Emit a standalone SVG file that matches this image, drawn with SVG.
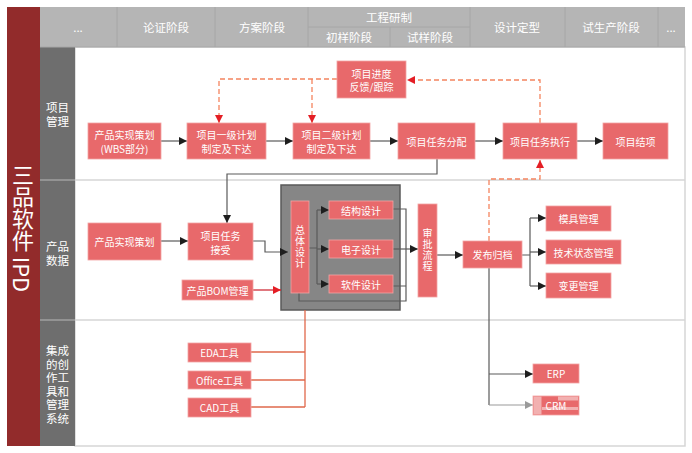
<svg xmlns="http://www.w3.org/2000/svg" width="692" height="453" viewBox="0 0 692 453">
<defs>
<marker id="ab" viewBox="0 0 10 10" refX="10" refY="5" markerWidth="8" markerHeight="8" markerUnits="userSpaceOnUse" orient="auto"><path d="M0,0 L10,5 L0,10 z" fill="#1e1e1e"/></marker>
<marker id="ar" viewBox="0 0 10 10" refX="10" refY="5" markerWidth="8" markerHeight="8" markerUnits="userSpaceOnUse" orient="auto"><path d="M0,0 L10,5 L0,10 z" fill="#E41E25"/></marker>
<marker id="ag" viewBox="0 0 10 10" refX="10" refY="5" markerWidth="8" markerHeight="8" markerUnits="userSpaceOnUse" orient="auto"><path d="M0,0 L10,5 L0,10 z" fill="#9a9a9a"/></marker>
</defs>
<style>
text{font-family:"Noto Sans CJK SC","Noto Sans",sans-serif;fill:#fff;text-anchor:middle;dominant-baseline:central}
.n{fill:#E8696B;stroke:#F2A4A4;stroke-width:0.8}
.t{font-size:10px}
.v{font-size:10px;writing-mode:vertical-rl;letter-spacing:1px}
.h{font-size:11.5px}
.l{font-size:11.5px}
.hl{stroke:#a6a6a6;stroke-width:1;fill:none}
.c{fill:none;stroke:#5a5a5a;stroke-width:1.2}
.ca{fill:none;stroke:#5a5a5a;stroke-width:1.2;marker-end:url(#ab)}
.dr{fill:none;stroke:#F4845F;stroke-width:1.3;stroke-dasharray:5,3;marker-end:url(#ar)}
.o{fill:none;stroke:#E0694C;stroke-width:1.3}
</style>
<rect width="692" height="453" fill="#fff"/>
<g id="frame">
<rect x="75" y="47" width="610" height="399" fill="#fff" stroke="#d6d6d6" stroke-width="1.5"/>
<line x1="75" y1="180" x2="685" y2="180" stroke="#d6d6d6" stroke-width="1.5"/>
<line x1="75" y1="320" x2="685" y2="320" stroke="#d6d6d6" stroke-width="1.5"/>
<rect x="7" y="7" width="33" height="439" fill="#922B2B"/>
<text x="23" y="228" style="font-size:22px;writing-mode:vertical-rl;dominant-baseline:central" text-anchor="middle">三品软件 IPD</text>
<rect x="40" y="47" width="35" height="399" fill="#6E6E6E"/>
<line x1="40" y1="180" x2="75" y2="180" stroke="#a0a0a0" stroke-width="1.5"/>
<line x1="40" y1="320" x2="75" y2="320" stroke="#a0a0a0" stroke-width="1.5"/>
<text class="l"><tspan x="57.5" y="107">项目</tspan><tspan x="57.5" y="121">管理</tspan></text>
<text class="l"><tspan x="57.5" y="246">产品</tspan><tspan x="57.5" y="260">数据</tspan></text>
<text class="l"><tspan x="57.5" y="350">集成</tspan><tspan x="57.5" y="363.5">的创</tspan><tspan x="57.5" y="377">作工</tspan><tspan x="57.5" y="390.5">具和</tspan><tspan x="57.5" y="404">管理</tspan><tspan x="57.5" y="417.5">系统</tspan></text>
</g>
<g id="header">
<rect x="40" y="7" width="645" height="40" fill="#B5B5B5"/>
<path class="hl" d="M117,7V47M215,7V47M308,7V47M390,27V47M470,7V47M565,7V47M658,7V47M308,27H470M40,47H685"/>
<text class="h" x="78" y="27">...</text>
<text class="h" x="166" y="27">论证阶段</text>
<text class="h" x="262" y="27">方案阶段</text>
<text class="h" x="389" y="17">工程研制</text>
<text class="h" x="349" y="37">初样阶段</text>
<text class="h" x="430" y="37">试样阶段</text>
<text class="h" x="517" y="27">设计定型</text>
<text class="h" x="611" y="27">试生产阶段</text>
<text class="h" x="671" y="27">...</text>
</g>
<g id="design-box">
<rect x="281" y="185" width="119" height="125" fill="#868686" stroke="#5a5a5a" stroke-width="1.5"/>
</g>
<g id="connectors">
<path class="ca" d="M161,141H187"/>
<path class="ca" d="M266,141H293"/>
<path class="ca" d="M370,141H398"/>
<path class="ca" d="M475,141H503"/>
<path class="ca" d="M577,141H603"/>
<path class="dr" d="M337,79H219V123"/>
<path class="dr" d="M312,79V123"/>
<path class="dr" d="M540,123V80H407"/>
<path class="dr" d="M489,241V179H540V160"/>
<path class="ca" d="M437,159V174H227V223"/>
<path class="ca" d="M161,241H188"/>
<path class="ca" d="M253,241H265V252H288"/>
<path fill="none" stroke="#CC1F2A" stroke-width="1.2" marker-end="url(#ar)" d="M253,290H281"/>
<path class="c" d="M309,248H317M317,210V284"/>
<path class="ca" d="M317,210H329"/>
<path class="ca" d="M317,249H329"/>
<path class="ca" d="M317,284H329"/>
<path class="c" d="M393,209H406V301H299V293M393,286H406"/>
<path class="ca" d="M393,249H418"/>
<path class="ca" d="M437,255H463"/>
<path class="c" d="M522,255H530M530,218V286"/>
<path class="ca" d="M530,218H546"/>
<path class="ca" d="M530,252H546"/>
<path class="ca" d="M530,286H546"/>
<path class="c" d="M489,268V405"/>
<path class="ca" d="M489,374H533"/>
<path fill="none" stroke="#9a9a9a" stroke-width="1.2" marker-end="url(#ag)" d="M489,405H533"/>
<path class="o" d="M251,352H305M251,380H305M251,407H305M305,310V407"/>
</g>
<g id="n1"><rect class="n" x="88" y="123" width="73" height="36"/><text class="t"><tspan x="124.5" y="134">产品实现策划</tspan><tspan x="124.5" y="148">(WBS部分)</tspan></text></g>
<g id="n2"><rect class="n" x="187" y="123" width="79" height="36"/><text class="t"><tspan x="226.5" y="134">项目一级计划</tspan><tspan x="226.5" y="148">制定及下达</tspan></text></g>
<g id="n3"><rect class="n" x="293" y="123" width="77" height="36"/><text class="t"><tspan x="331.5" y="134">项目二级计划</tspan><tspan x="331.5" y="148">制定及下达</tspan></text></g>
<g id="n4"><rect class="n" x="398" y="123" width="77" height="36"/><text class="t" x="436.5" y="141">项目任务分配</text></g>
<g id="n5"><rect class="n" x="503" y="123" width="74" height="36"/><text class="t" x="540" y="141">项目任务执行</text></g>
<g id="n6"><rect class="n" x="603" y="123" width="65" height="36"/><text class="t" x="635.5" y="141">项目结项</text></g>
<g id="n7"><rect class="n" x="337" y="61" width="69" height="37"/><text class="t"><tspan x="371.5" y="73">项目进度</tspan><tspan x="371.5" y="86">反馈/跟踪</tspan></text></g>
<g id="n8"><rect class="n" x="88" y="223" width="73" height="37"/><text class="t" x="124.5" y="241.5">产品实现策划</text></g>
<g id="n9"><rect class="n" x="188" y="223" width="65" height="37"/><text class="t"><tspan x="220.5" y="235">项目任务</tspan><tspan x="220.5" y="249">接受</tspan></text></g>
<g id="n10"><rect class="n" x="182" y="280" width="71" height="20"/><text class="t" x="217.5" y="290">产品BOM管理</text></g>
<g id="n11"><rect class="n" x="291" y="201" width="18" height="92"/><text class="v" x="300" y="247.5">总体设计</text></g>
<g id="n12"><rect class="n" x="329" y="201" width="64" height="18"/><text class="t" x="361" y="210">结构设计</text></g>
<g id="n13"><rect class="n" x="329" y="240" width="64" height="18"/><text class="t" x="361" y="249">电子设计</text></g>
<g id="n14"><rect class="n" x="329" y="275" width="64" height="18"/><text class="t" x="361" y="284">软件设计</text></g>
<g id="n15"><rect class="n" x="418" y="204" width="19" height="93"/><text class="v" x="427.5" y="250.5">审批流程</text></g>
<g id="n16"><rect class="n" x="463" y="241" width="59" height="27"/><text class="t" x="492.5" y="254.5">发布归档</text></g>
<g id="n17"><rect class="n" x="546" y="206" width="65" height="25"/><text class="t" x="578.5" y="218.5">模具管理</text></g>
<g id="n18"><rect class="n" x="546" y="240" width="75" height="24"/><text class="t" x="583.5" y="252">技术状态管理</text></g>
<g id="n19"><rect class="n" x="546" y="273" width="65" height="25"/><text class="t" x="578.5" y="285.5">变更管理</text></g>
<g id="n20"><rect class="n" x="533" y="364" width="46" height="19"/><text class="t" x="556" y="373.5">ERP</text></g>
<g id="n21"><rect class="n" x="533" y="396" width="46" height="19"/><rect x="533.5" y="396.5" width="8" height="18" fill="#F2B0B0"/><rect x="558" y="396.5" width="20" height="4" fill="#F2B0B0"/><rect x="542" y="407" width="36" height="3" fill="#F2B0B0"/><text class="t" x="556" y="405.5">CRM</text></g>
<g id="n22"><rect class="n" x="188" y="343" width="63" height="19"/><text class="t" x="219.5" y="352.5">EDA工具</text></g>
<g id="n23"><rect class="n" x="188" y="371" width="63" height="18"/><text class="t" x="219.5" y="380">Office工具</text></g>
<g id="n24"><rect class="n" x="188" y="398" width="63" height="19"/><text class="t" x="219.5" y="407.5">CAD工具</text></g>
</svg>
